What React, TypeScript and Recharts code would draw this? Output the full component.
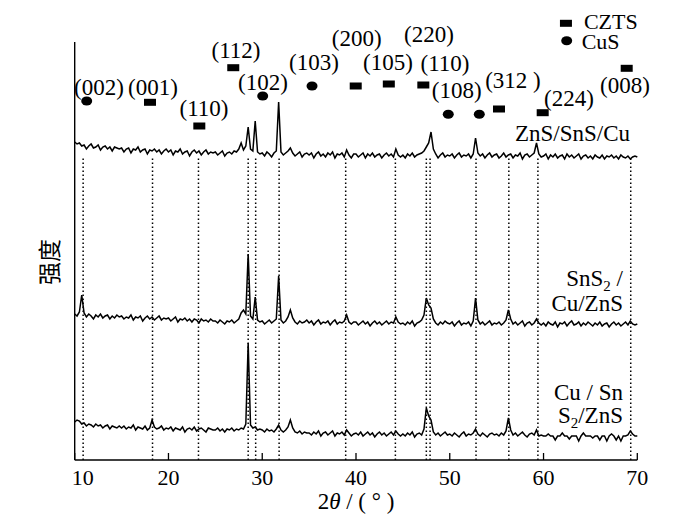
import React from 'react';
import { ComposedChart, Line, Scatter, XAxis, YAxis, ReferenceLine } from 'recharts';

const SERIF = "'Liberation Serif', 'Times New Roman', 'DejaVu Serif', serif";
const CJK = "'Noto Sans CJK SC', sans-serif";

// 2θ sampling of the patterns (10°–70°)
const ANGLE_START = 10;
const ANGLE_STEP = 0.25;

// intensities (a.u., stacked offsets included), one row = 5°
const znsSnsCu = [
  318, 316, 317, 314, 315, 311, 314, 316, 312, 313, 315, 310, 313, 314, 311, 313, 309, 313, 312, 311,
  312, 308, 311, 312, 307, 311, 310, 313, 308, 310, 311, 306, 310, 309, 311, 308, 310, 306, 309, 311,
  308, 310, 305, 309, 308, 311, 306, 308, 309, 304, 308, 310, 307, 309, 305, 308, 310, 306, 308, 307,
  308, 305, 307, 309, 304, 307, 308, 306, 309, 308, 311, 317, 310, 314, 333, 311, 309, 339, 308, 306,
  307, 304, 308, 306, 303, 307, 309, 358, 308, 305, 307, 309, 312, 307, 304, 306, 308, 303, 306, 307,
  305, 307, 302, 306, 308, 304, 306, 303, 307, 305, 308, 302, 306, 305, 307, 303, 310, 305, 302, 306,
  306, 303, 305, 307, 302, 306, 304, 307, 303, 305, 306, 302, 305, 307, 304, 306, 303, 311, 305, 303,
  305, 302, 306, 304, 307, 303, 305, 306, 307, 309, 313, 317, 328, 311, 306, 302, 305, 307, 303, 305,
  304, 306, 302, 305, 307, 303, 305, 304, 306, 302, 306, 322, 307, 304, 306, 302, 305, 307, 303, 305,
  306, 302, 304, 307, 303, 305, 306, 302, 305, 304, 307, 301, 305, 306, 303, 305, 307, 317, 306, 303,
  304, 306, 301, 305, 303, 306, 302, 304, 305, 301, 306, 303, 305, 302, 304, 306, 301, 304, 305, 302,
  304, 301, 305, 303, 302, 305, 301, 304, 303, 305, 302, 304, 301, 305, 303, 302, 304, 301, 303, 304,
  303,
];

const sns2CuZns = [
  146, 144, 148, 165, 147, 143, 146, 144, 141, 145, 143, 146, 142, 144, 145, 141, 144, 142, 145, 143,
  144, 141, 143, 142, 145, 140, 143, 142, 144, 139, 142, 144, 141, 143, 140, 142, 144, 140, 142, 141,
  142, 139, 141, 143, 138, 141, 140, 142, 139, 141, 138, 141, 140, 137, 141, 139, 140, 138, 141, 139,
  139, 137, 140, 138, 136, 139, 138, 140, 137, 139, 141, 147, 150, 146, 206, 144, 141, 163, 140, 138,
  139, 136, 138, 140, 137, 139, 141, 184, 140, 137, 139, 143, 150, 142, 138, 136, 139, 137, 138, 140,
  137, 139, 135, 138, 140, 136, 138, 137, 139, 135, 138, 140, 136, 138, 137, 139, 145, 138, 136, 138,
  138, 135, 137, 139, 136, 138, 134, 137, 139, 136, 138, 135, 137, 139, 136, 138, 137, 143, 138, 136,
  137, 135, 138, 136, 139, 134, 137, 138, 140, 145, 162, 155, 152, 141, 137, 135, 138, 136, 139, 137,
  136, 138, 134, 137, 139, 135, 137, 136, 138, 134, 139, 162, 140, 136, 138, 135, 137, 139, 135, 137,
  136, 138, 135, 137, 140, 150, 141, 136, 138, 135, 137, 139, 134, 137, 138, 135, 137, 141, 137, 135,
  137, 134, 138, 136, 135, 138, 133, 137, 136, 138, 134, 137, 139, 135, 136, 138, 134, 137, 135, 138,
  136, 134, 137, 135, 138, 134, 136, 137, 133, 136, 138, 135, 137, 134, 136, 138, 135, 139, 136, 135,
  136,
];

const cuSns2Zns = [
  38, 40, 39, 36, 37, 34, 36, 35, 33, 36, 34, 35, 32, 34, 35, 31, 34, 33, 32, 34,
  32, 34, 31, 33, 32, 35, 30, 33, 32, 31, 34, 30, 32, 40, 33, 31, 32, 34, 30, 32,
  31, 33, 29, 32, 31, 30, 33, 28, 31, 32, 30, 33, 29, 31, 32, 30, 28, 32, 31, 30,
  30, 32, 29, 31, 28, 31, 30, 32, 29, 31, 30, 32, 31, 36, 117, 35, 32, 33, 30, 31,
  30, 28, 31, 29, 30, 28, 31, 35, 30, 28, 30, 33, 40, 32, 28, 27, 29, 26, 28, 27,
  27, 25, 28, 26, 29, 24, 27, 28, 25, 27, 29, 24, 27, 26, 28, 25, 30, 27, 24, 26,
  27, 25, 28, 24, 26, 28, 25, 27, 23, 26, 28, 25, 27, 24, 26, 28, 25, 29, 26, 24,
  26, 24, 27, 25, 28, 23, 26, 27, 25, 31, 52, 44, 40, 28, 25, 27, 24, 26, 28, 25,
  26, 24, 27, 25, 23, 26, 28, 24, 26, 25, 27, 31, 26, 24, 27, 25, 23, 26, 27, 25,
  26, 24, 27, 25, 29, 42, 30, 25, 27, 24, 26, 28, 25, 23, 26, 27, 25, 30, 24, 25,
  24, 24, 26, 24, 24, 20, 24, 24, 27, 24, 24, 21, 24, 24, 24, 19, 24, 27, 24, 24,
  24, 22, 24, 24, 20, 24, 24, 19, 24, 26, 24, 20, 24, 19, 24, 24, 25, 29, 26, 24,
  24,
];

const angleTicks = [10, 20, 30, 40, 50, 60, 70];

// dotted guide lines under the top pattern
const guideAngles = [10.9, 18.3, 23.2, 28.5, 29.3, 31.8, 38.9, 44.2, 47.5, 47.9, 52.8, 56.3, 59.4, 69.3];
const GUIDE_TOP = 302;
const AXIS_TOP = 418;

// phase markers
const cztsAngles = [18.03, 23.29, 26.91, 39.97, 43.5, 47.18, 55.25, 59.91, 68.87];
const cztsLevels = [357.7, 334, 392.3, 374, 376, 375, 351, 347.3, 391.7];
const cusAngles = [11.28, 30.05, 35.31, 49.84, 53.15];
const cusLevels = [359, 364, 374, 345.7, 345.7];

// hkl labels
const hklTexts = ['(002)', '(001)', '(110)', '(112)', '(102)', '(103)', '(200)', '(105)', '(220)', '(110)', '(108)', '(312 )', '(224)', '(008)'];
const hklAngles = [12.59, 18.35, 23.79, 27.2, 30.08, 35.52, 40.07, 43.41, 47.78, 49.49, 50.74, 56.74, 62.71, 68.68];
const hklLevels = [373, 373, 352, 410, 378, 398, 422.5, 398.3, 426, 397, 370, 380, 362.5, 375];

// legend
const legendNames = ['CZTS', 'CuS'];
const legendMarkAngles = [62.39, 62.47];
const legendMarkLevels = [436.7, 419.3];
const legendTextAngles = [64.31, 64.07];
const legendTextLevels = [438.3, 418.3];

// sample names ("_" = next char subscript)
const sampleNames = ['ZnS/SnS/Cu', 'SnS_2 /', 'Cu/ZnS', 'Cu / Sn', 'S_2/ZnS'];
const sampleAngles = [69.22, 68.47, 68.47, 68.47, 68.47];
const sampleLevels = [327, 181.7, 156.7, 68.3, 45];

const rows = znsSnsCu.map((v, i) => ({
  angle: ANGLE_START + i * ANGLE_STEP,
  top: v,
  mid: sns2CuZns[i],
  bot: cuSns2Zns[i],
}));

const cztsPoints = cztsAngles
  .map((a, i) => ({ angle: a, level: cztsLevels[i] }))
  .concat([{ angle: legendMarkAngles[0], level: legendMarkLevels[0] }]);
const cusPoints = cusAngles
  .map((a, i) => ({ angle: a, level: cusLevels[i] }))
  .concat([{ angle: legendMarkAngles[1], level: legendMarkLevels[1] }]);
const hklPoints = hklTexts.map((t, i) => ({ angle: hklAngles[i], level: hklLevels[i], text: t }));
const legendPoints = legendNames.map((t, i) => ({ angle: legendTextAngles[i], level: legendTextLevels[i], text: t }));
const samplePoints = sampleNames.map((t, i) => ({ angle: sampleAngles[i], level: sampleLevels[i], text: t }));

const rich = (s: string) => {
  const parts = s.split('_');
  const out: React.ReactNode[] = [<tspan key="h">{parts[0]}</tspan>];
  parts.slice(1).forEach((p, i) => {
    out.push(<tspan key={`s${i}`} fontSize={15} dy={5}>{p[0]}</tspan>);
    out.push(<tspan key={`t${i}`} dy={-5}>{p.slice(1)}</tspan>);
  });
  return out;
};

const textShape = (anchor: 'start' | 'middle' | 'end', size: number) => (props: any) => (
  <text
    x={props.cx}
    y={props.cy}
    dy="0.35em"
    textAnchor={anchor}
    style={{ fontFamily: SERIF, fontSize: size }}
    fill="#000"
  >
    {rich(props.payload.text)}
  </text>
);

const RectMark = (props: any) => (
  <rect x={props.cx - 6} y={props.cy - 3.5} width={12} height={7} fill="#000" />
);
const DotMark = (props: any) => <ellipse cx={props.cx} cy={props.cy} rx={5.5} ry={4.5} fill="#000" />;

const AngleTick = (props: any) => {
  const { x, y, payload } = props;
  return (
    <g>
      <line x1={x} y1={y} x2={x} y2={y - 7} stroke="#000" strokeWidth={1.3} />
      <text
        x={x + (payload.value === 10 ? 8 : 0)}
        y={y + 17}
        dy="0.35em"
        textAnchor="middle"
        style={{ fontFamily: SERIF, fontSize: 22 }}
        fill="#000"
      >
        {payload.value}
      </text>
    </g>
  );
};

const traceStyle = { stroke: '#000', strokeWidth: 1.5 };

export default function App() {
  return (
    <div style={{ position: 'relative', width: 692, height: 516 }}>
      <ComposedChart
        width={692}
        height={516}
        data={rows}
        margin={{ top: 0, right: 62.7, bottom: 0, left: 6.7 }}
      >
        <XAxis
          dataKey="angle"
          type="number"
          domain={[10, 70]}
          ticks={angleTicks}
          interval={0}
          tick={<AngleTick />}
          tickLine={false}
          tickSize={0}
          tickMargin={0}
          axisLine={{ stroke: '#000', strokeWidth: 1.4 }}
          height={64}
        />
        <YAxis type="number" domain={[0, 452]} width={60} axisLine={false} tick={false} tickLine={false} />
        <ReferenceLine
          segment={[{ x: 10, y: 0 }, { x: 10, y: AXIS_TOP }]}
          stroke="#000"
          strokeWidth={1.4}
        />
        {guideAngles.map((a) => (
          <ReferenceLine
            key={a}
            segment={[{ x: a, y: 0 }, { x: a, y: GUIDE_TOP }]}
            stroke="#000"
            strokeWidth={1.5}
            strokeDasharray="1.6 2.4"
          />
        ))}
        <Line dataKey="top" type="linear" {...traceStyle} dot={false} isAnimationActive={false} />
        <Line dataKey="mid" type="linear" {...traceStyle} dot={false} isAnimationActive={false} />
        <Line dataKey="bot" type="linear" {...traceStyle} dot={false} isAnimationActive={false} />
        <Scatter data={cztsPoints} dataKey="level" shape={RectMark} isAnimationActive={false} />
        <Scatter data={cusPoints} dataKey="level" shape={DotMark} isAnimationActive={false} />
        <Scatter data={hklPoints} dataKey="level" shape={textShape('middle', 23)} isAnimationActive={false} />
        <Scatter data={legendPoints} dataKey="level" shape={textShape('start', 22)} isAnimationActive={false} />
        <Scatter data={samplePoints} dataKey="level" shape={textShape('end', 23)} isAnimationActive={false} />
      </ComposedChart>
      <svg
        width={692}
        height={516}
        style={{ position: 'absolute', left: 0, top: 0, pointerEvents: 'none' }}
      >
        <text x={348} y={493} dy="0.35em" textAnchor="middle" style={{ fontFamily: SERIF, fontSize: 23 }} fill="#000">
          2<tspan fontStyle="italic">θ</tspan> / ( ° )
        </text>
        <text
          x={42}
          y={254}
          dy="0.35em"
          textAnchor="middle"
          style={{ fontFamily: CJK, fontSize: 23 }}
          fill="#000"
          transform="rotate(-90 42 254)"
        >
          强度
        </text>
      </svg>
    </div>
  );
}
